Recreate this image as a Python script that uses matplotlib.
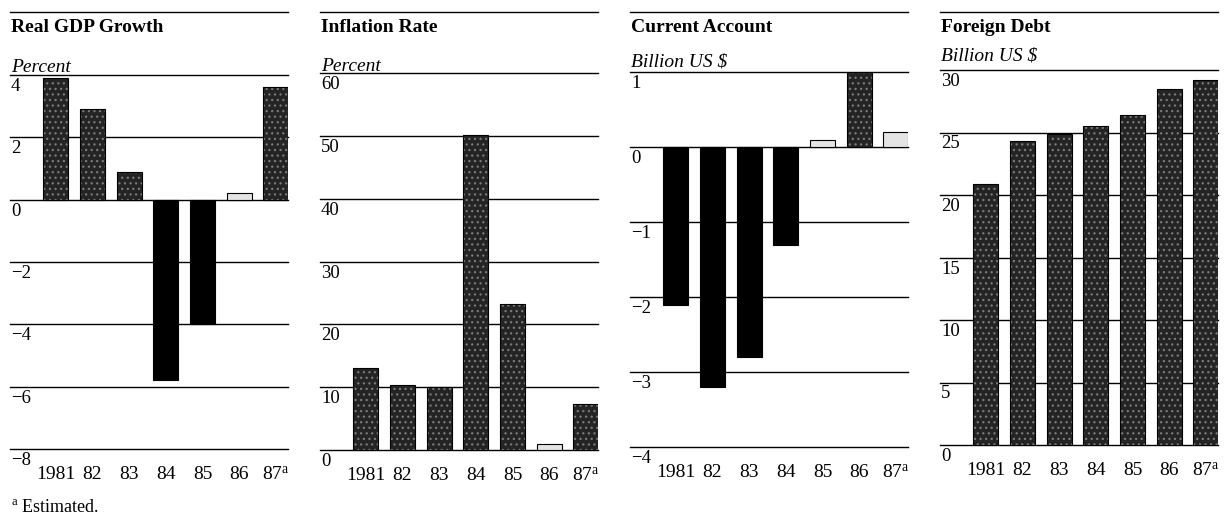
import matplotlib
matplotlib.use('Agg')
import matplotlib.pyplot as plt
from matplotlib import transforms
from matplotlib.lines import Line2D

# ---- data ----
years = ['1981', '82', '83', '84', '85', '86', '87$^{\\mathrm{a}}$']
gdp_growth = [3.9, 2.9, 0.9, -5.8, -4.0, 0.2, 3.6]
inflation_rate = [13.0, 10.3, 10.0, 50.2, 23.2, 1.0, 7.3]
current_account = [-2.1, -3.2, -2.8, -1.3, 0.1, 1.0, 0.2]
foreign_debt = [20.9, 24.3, 24.9, 25.5, 26.4, 28.5, 29.2]

titles = ['Real GDP Growth', 'Inflation Rate', 'Current Account', 'Foreign Debt']
units = ['Percent', 'Percent', r'Billion US \$', r'Billion US \$']
gdp_ticks = [-8, -6, -4, -2, 0, 2, 4]
inflation_ticks = [0, 10, 20, 30, 40, 50, 60]
account_ticks = [-4, -3, -2, -1, 0, 1]
debt_ticks = [0, 5, 10, 15, 20, 25, 30]
footnote = '$^{\\mathrm{a}}$ Estimated.'

series = [gdp_growth, inflation_rate, current_account, foreign_debt]
tick_sets = [gdp_ticks, inflation_ticks, account_ticks, debt_ticks]

# ---- style ----
plt.rcParams['font.family'] = ['Liberation Serif', 'DejaVu Serif']
plt.rcParams['mathtext.fontset'] = 'custom'
plt.rcParams['mathtext.rm'] = 'Liberation Serif'
plt.rcParams['mathtext.it'] = 'Liberation Serif:italic'
plt.rcParams['hatch.linewidth'] = 0.9

W, H = 1227, 521
fig = plt.figure(figsize=(W / 100, H / 100), dpi=100)

lefts = [10, 320, 630, 940]
width_px = 278
tops = [75, 73, 72, 70]
bottoms = [449, 450, 447, 445]
unit_baselines = [72, 71, 67, 61]

DARK = '#242424'
LIGHT = '#e4e4e4'

for i in range(4):
    l, t, b = lefts[i], tops[i], bottoms[i]
    ax = fig.add_axes([l / W, 1 - b / H, width_px / W, (b - t) / H])
    vals = series[i]
    ticks = tick_sets[i]
    ax.set_xlim(-1.25, 6.33)
    ax.set_ylim(ticks[0], ticks[-1])
    span = ticks[-1] - ticks[0]
    x = list(range(len(vals)))
    for tv in ticks:
        ax.axhline(tv, color='black', linewidth=1.0, zorder=1, clip_on=False)
    for xi, v in zip(x, vals):
        if v < 0:
            ax.bar(xi, v, width=0.68, color='black', edgecolor='black',
                   linewidth=0.8, zorder=3)
        elif v < 0.06 * span:
            ax.bar(xi, v, width=0.68, color=LIGHT, edgecolor='black',
                   linewidth=0.8, zorder=3)
        else:
            ax.bar(xi, v, width=0.68, color=DARK, edgecolor='#7a7a7a',
                   hatch='...', linewidth=0, zorder=3)
            ax.bar(xi, v, width=0.68, color='none', edgecolor='black',
                   linewidth=0.8, zorder=4)
    ax.set_yticks([])
    ax.set_xticks(x, years)
    ax.tick_params(axis='x', length=0, pad=12, labelsize=14)
    for s in ax.spines.values():
        s.set_visible(False)
    ax.set_facecolor('none')

    # y tick labels, left aligned below each gridline
    off = transforms.offset_copy(ax.get_yaxis_transform(), fig=fig, x=0, y=-3, units='dots')
    for tv in ticks:
        lab = str(tv).replace('-', '\u2212')
        ax.text(0.004, tv, lab, transform=off, ha='left', va='top',
                fontsize=13.5, clip_on=False)

    # title rule, title, unit label
    fx0, fx1 = l / W, (l + width_px) / W
    fig.add_artist(Line2D([fx0, fx1], [1 - 12 / H, 1 - 12 / H], color='black', linewidth=1.0))
    fig.text(fx0 + 1 / W, 1 - 32 / H, titles[i], fontsize=14, fontweight='bold',
             ha='left', va='baseline')
    fig.text(fx0 + 1 / W, 1 - unit_baselines[i] / H, units[i], fontsize=14, style='italic',
             ha='left', va='baseline')

fig.text(11 / W, 1 - 512 / H, footnote, fontsize=13, ha='left', va='baseline')

fig.savefig('out.png', dpi=100)
